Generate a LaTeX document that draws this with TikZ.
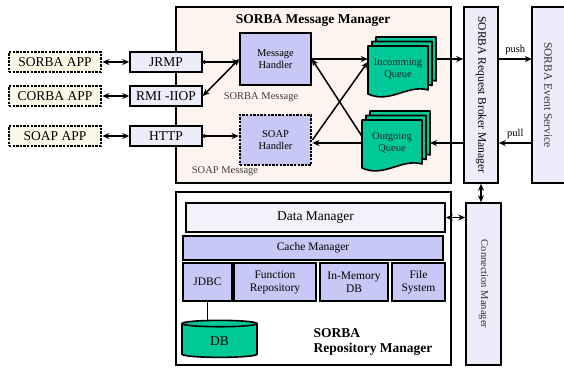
\documentclass[tikz,border=0pt]{standalone}
\usepackage{fontspec}
\setmainfont{Liberation Serif}
\usepackage{tikz}
\usetikzlibrary{arrows.meta, positioning, shapes.geometric}
\definecolor{mgrbg}{HTML}{FDF3EF}
\definecolor{appbg}{HTML}{FCF8E8}
\definecolor{palebox}{HTML}{ECECFA}
\definecolor{handlerbg}{HTML}{C8C8F6}
\definecolor{queuebg}{HTML}{00C896}
\tikzstyle{basefont}=[font=\fontsize{13.5}{15}\selectfont]
\tikzstyle{smallfont}=[font=\fontsize{10.5}{12}\selectfont]
\tikzstyle{midfont}=[font=\fontsize{11.5}{13}\selectfont]
\tikzstyle{box}=[draw, line width=1.6pt, inner sep=0pt, align=center]
\tikzstyle{frame}=[draw, line width=1.8pt, inner sep=0pt]
\tikzstyle{dotted border}=[line width=2.8pt, dash pattern=on 2.4pt off 1.2pt]
\tikzstyle{app}=[box, basefont, dotted border, fill=appbg, minimum width=92pt, minimum height=20pt]
\tikzstyle{proto}=[box, basefont, fill=palebox, minimum width=72pt, minimum height=20pt]
\tikzstyle{handler}=[box, smallfont, fill=handlerbg, minimum width=71pt]
\tikzstyle{store}=[box, midfont, fill=handlerbg, minimum height=38pt]
\tikzstyle{bar}=[box, fill=palebox]
\tikzstyle{title}=[font=\fontsize{13.5}{15}\selectfont\bfseries, align=left]
\tikzstyle{tag}=[smallfont, text=black!75]
\tikzstyle{queuepage}=[draw, line width=1.6pt, fill=queuebg, line join=round]
\tikzstyle{queuetext}=[smallfont, text=black!85, align=center, inner sep=0pt]
\tikzstyle{arrow}=[line width=1.5pt, ->, >={Stealth[length=7pt,width=6pt]}]
\tikzstyle{biarrow}=[arrow, <->]
\tikzstyle{dotarrow}=[arrow, {Circle[length=3.5pt]}->]
\newcommand*{\queue}[4]{%
	\begin{scope}[shift={(#2,#3)}]
		\foreach \k in {2,1,0}{
			\draw[queuepage, shift={(4*\k,-4.5*\k)}]
			(0,0) -- (60,0) -- (60,44) .. controls (40,38) and (22,58) .. (0,48) -- cycle;
		}
		\node[queuetext, minimum width=60pt, minimum height=44pt] (#1) at (30,23) {#4};
		% right edge of the back page
		\coordinate (#1back) at (68,23);
	\end{scope}
}

\begin{document}
\begin{tikzpicture}[x=1pt, y=-1pt]
	\useasboundingbox (0,0) rectangle (564,367);

	% Message manager
	\node[frame, fill=mgrbg, minimum width=275pt, minimum height=176pt] (mm) at (313.5,95) {};
	\node[title] (mmtitle) at (313,21) {SORBA Message Manager};

	% Applications and protocols
	\foreach \app/\proto/\y [count=\i] in {
		SORBA APP/JRMP/62,
		CORBA APP/RMI -IIOP/96,
		SOAP APP/HTTP/136
	}{
		\node[app] (app\i) at (55,\y) {\app};
		\node[proto] (proto\i) at (166,\y) {\proto};
		\draw[biarrow] (app\i) -- (proto\i);
	}

	\node[handler, minimum height=52pt] (mh) at (275.5,59) {Message\\Handler};
	\node[handler, dotted border, minimum height=50pt] (sh) at (275.5,140) {SOAP\\Handler};
	\node[tag] (smsg) at (261,97) {SORBA Message};
	\node[tag] (soapmsg) at (225,171) {SOAP Message};

	\queue{iq}{368}{46}{Incomming\\Queue}
	\queue{oq}{362}{120}{Outgoing\\Queue}

	% Broker, event service, connection manager
	\node[bar, minimum width=34pt, minimum height=176pt,
		label={[rotate=-90, midfont]center:SORBA Request Broker Manager}] (rb) at (481,95) {};
	\node[fill=palebox, inner sep=0pt, minimum width=32pt, minimum height=176pt,
		label={[rotate=-90, midfont, text=black!80]center:SORBA Event Service}] (es) at (548,95) {};
	\draw[line width=1.6pt] (es.north east) -- (es.north west) -- (es.south west) -- (es.south east);
	\node[bar, minimum width=35pt, minimum height=162pt,
		label={[rotate=-90, smallfont, text=black!80]center:Connection Manager}] (cm) at (483.5,284) {};

	% Repository manager
	\node[frame, fill=white, minimum width=275pt, minimum height=173pt] (rm) at (313.5,278.5) {};
	\node[bar, basefont, fill=palebox!70, minimum width=259pt, minimum height=29pt] (dm) at (315.5,217.5) {Data Manager};
	\node[store, minimum width=260pt, minimum height=24pt] (cache) at (313,248) {Cache Manager};
	\node[store, minimum width=49pt] (jdbc) at (207.5,282) {JDBC};
	\node[store, minimum width=82pt] (func) at (275,282) {Function\\Repository};
	\node[store, minimum width=68pt] (imdb) at (354,282) {In-Memory\\DB};
	\node[store, minimum width=53pt] (fs) at (418.5,282) {File\\System};
	\node[cylinder, shape border rotate=90, aspect=0.25, draw, line width=1.6pt, fill=queuebg,
		minimum width=75pt, minimum height=37pt, basefont] (db) at (219.5,341.5) {DB};
	\node[title, anchor=west] (rmtitle) at (310,342) {SORBA\\Repository Manager};

	% Connectors
	\draw[dotarrow] (proto1.east) -- (proto1.east -| mh.west);
	\draw[biarrow] (proto2.east) -- (mh.west);
	\draw[dotarrow] (proto3.east) -- (proto3.east -| sh.west);
	\draw[arrow] (mh.east) -- (mh.east -| iq.west);
	\draw[arrow] ([yshift=7pt]oq.west) -- (mh.east);
	\draw[arrow] (sh.east) -- ([yshift=7pt]iq.west);
	\draw[arrow] (oq.west) -- (oq.west -| sh.east);
	\draw[arrow] (iqback |- mh.east) -- (rb.west |- mh.east);
	\draw[arrow] (rb.west |- oq.west) -- (oqback |- oq.west);
	\draw[arrow] (rb.east |- mh.east) -- (es.west |- mh.east)
		node[midway, above, smallfont] (push) {push};
	\draw[arrow] (es.west |- oq.west) -- (rb.east |- oq.west)
		node[midway, above, smallfont] (pull) {pull};
	\draw[biarrow] (rb.south) -- (rb.south |- cm.north);
	\draw[biarrow] (dm.east) -- (dm.east -| cm.west);
	\draw[line width=1.6pt] (jdbc.south) -- (jdbc.south |- db.north);
\end{tikzpicture}
\end{document}
